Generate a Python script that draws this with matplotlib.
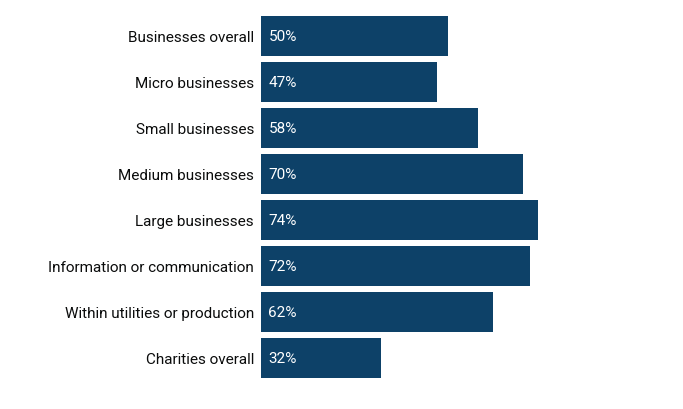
import matplotlib
matplotlib.use("Agg")
import matplotlib.pyplot as plt

categories = [
    "Businesses overall",
    "Micro businesses",
    "Small businesses",
    "Medium businesses",
    "Large businesses",
    "Information or communication",
    "Within utilities or production",
    "Charities overall",
]
values = [50, 47, 58, 70, 74, 72, 62, 32]

plt.rcParams["font.family"] = ["Roboto", "DejaVu Sans"]

W, H = 683, 410
fig = plt.figure(figsize=(W / 100, H / 100), dpi=100)
# axes: x from 261px to 635px (0..100%), y band 14..382px
left, right = 261, 635
top, bottom = 14, 382
ax = fig.add_axes([left / W, 1 - bottom / H, (right - left) / W, (bottom - top) / H])

ypos = list(range(len(categories)))
ax.barh(ypos, values, height=40 / 46, color="#0d4168")
ax.set_ylim(len(categories) - 0.5, -0.5)
ax.set_xlim(0, 100)

for y, v in zip(ypos, values):
    ax.text(2, y, f"{v}%", color="white", va="center", ha="left", fontsize=11)

ax.set_yticks(ypos)
ax.set_yticklabels(categories, fontsize=11, color="#0b0c0c")
ax.tick_params(axis="y", length=0, pad=5)
ax.set_xticks([])
for s in ax.spines.values():
    s.set_visible(False)

fig.savefig("out.png", dpi=100)
